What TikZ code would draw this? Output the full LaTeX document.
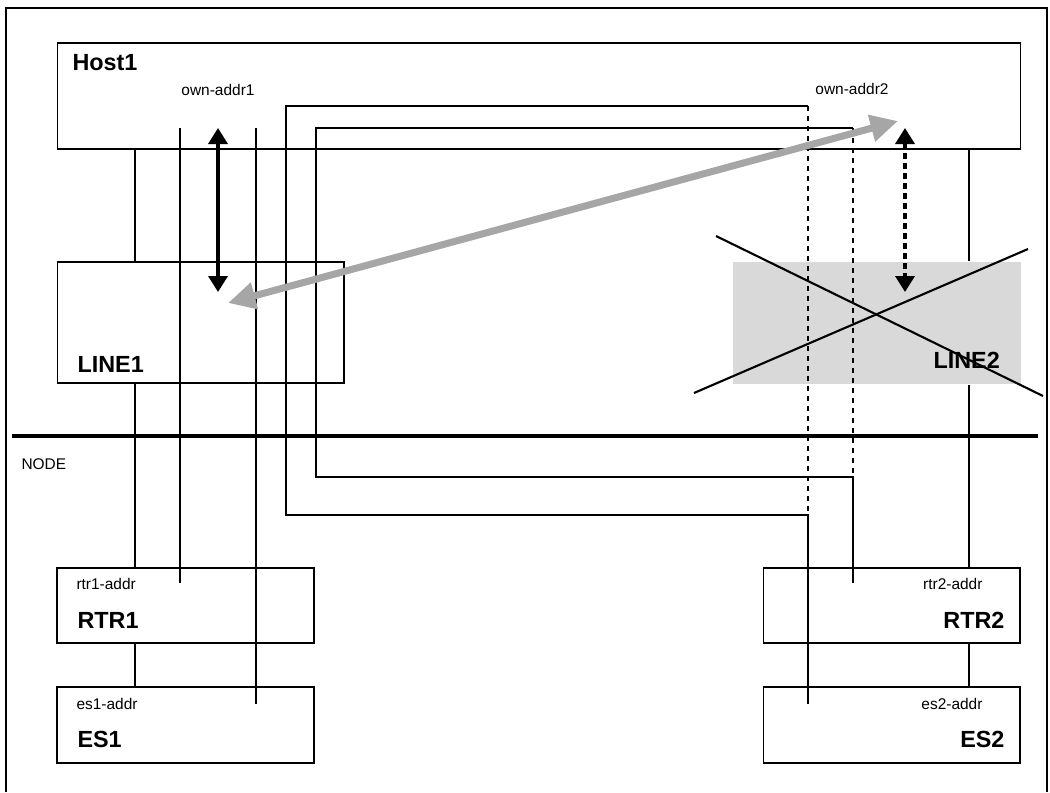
\documentclass[tikz,border=0pt]{standalone}
\usepackage{fontspec}
\setmainfont{Liberation Sans}
\usetikzlibrary{arrows.meta}

\begin{document}
\begin{tikzpicture}[x=0.02cm,y=-0.02cm,line width=0.6pt,
  netbox/.style={draw,line width=0.6pt,inner sep=0pt},
  downbox/.style={fill=black!15,inner sep=0pt},
  addr/.style={font=\fontsize{8.8}{10}\selectfont,inner sep=0pt},
  title/.style={font=\fontsize{13.3}{15}\selectfont\bfseries,inner sep=0pt},
  route/.style={line width=0.6pt},
  dropped/.style={line width=0.6pt,dash pattern=on 0.1cm off 0.1cm}]
\useasboundingbox (0,0) rectangle (1050,792);
\draw (6,792) -- (6,8) -- (1047,8) -- (1047,792);
\node[netbox,minimum width=19.28cm,minimum height=2.12cm] (host1) at (539,96) {};
\node[netbox,minimum width=5.74cm,minimum height=2.42cm] (line1) at (200.5,322.5) {};
\node[downbox,minimum width=5.76cm,minimum height=2.44cm] (line2) at (877,323) {};
\node[netbox,minimum width=5.14cm,minimum height=1.5cm] (rtr1) at (185.5,605.5) {};
\node[netbox,minimum width=5.14cm,minimum height=1.52cm] (es1) at (185.5,725) {};
\node[netbox,minimum width=5.14cm,minimum height=1.5cm] (rtr2) at (891.5,605.5) {};
\node[netbox,minimum width=5.14cm,minimum height=1.52cm] (es2) at (891.5,725) {};
\node[title,anchor=base west] (host1lbl) at (72,70.5) {Host1};
\node[title,anchor=base west] (line1lbl) at (77,372) {LINE1};
\node[title,anchor=base west] (line2lbl) at (933,368) {LINE2};
\node[title,anchor=base west] (rtr1lbl) at (77,628) {RTR1};
\node[title,anchor=base west] (es1lbl) at (77,747) {ES1};
\node[title,anchor=base east] (rtr2lbl) at (1005,628) {RTR2};
\node[title,anchor=base east] (es2lbl) at (1005,747) {ES2};
\node[addr] (own1) at (218,90) {own-addr1};
\node[addr] (own2) at (852,89) {own-addr2};
\node[addr,anchor=west] (rtr1addr) at (76,583.5) {rtr1-addr};
\node[addr,anchor=west] (es1addr) at (76,703.5) {es1-addr};
\node[addr,anchor=east] (rtr2addr) at (983,583.5) {rtr2-addr};
\node[addr,anchor=east] (es2addr) at (983,703.5) {es2-addr};
\node[addr,anchor=west] (nodelbl) at (21,464) {NODE};
\coordinate (left) at (135,0);
\coordinate (right) at (969,0);
\coordinate (r1top) at (180,128);
\coordinate (r1end) at (180,583);
\coordinate (e1top) at (256,128);
\coordinate (e1end) at (256,704);
\coordinate (e2a) at (286,106);
\coordinate (e2b) at (808,106);
\coordinate (e2c) at (808,515);
\coordinate (e2d) at (286,515);
\coordinate (e2end) at (808,704);
\coordinate (r2a) at (316,128);
\coordinate (r2b) at (853,128);
\coordinate (r2c) at (853,477);
\coordinate (r2d) at (316,477);
\coordinate (r2end) at (853,583);
\draw[route] (host1.south -| left) -- (line1.north -| left);
\draw[route] (line1.south -| left) -- (rtr1.north -| left);
\draw[route] (rtr1.south -| left) -- (es1.north -| left);
\draw[route] (host1.south -| right) -- (line2.north -| right);
\draw[route] (line2.south -| right) -- (rtr2.north -| right);
\draw[route] (rtr2.south -| right) -- (es2.north -| right);
\draw[route] (r1top) -- (r1end);
\draw[route] (e1top) -- (e1end);
\draw[route] (e2b) -- (e2a) -- (e2d) -- (e2c) -- (e2end);
\draw[dropped] (e2b) -- (e2c);
\draw[route] (r2b) -- (r2a) -- (r2d) -- (r2c) -- (r2end);
\draw[dropped] (r2b) -- (r2c);
\draw[line width=2.3pt] (12,436) -- (1038,436);
\coordinate (x1) at (716,236);
\coordinate (x2) at (1043,396);
\coordinate (x3) at (694,393);
\coordinate (x4) at (1028,249);
\draw[line width=1.2pt] (x1) -- (x2);
\draw[line width=1.2pt] (x3) -- (x4);
\coordinate (own1up) at (218,128);
\coordinate (own1dn) at (218,292);
\coordinate (own2up) at (905,128);
\coordinate (own2dn) at (905,292);
\draw[line width=2pt,{Triangle[length=3.2mm,width=3.8mm]}-{Triangle[length=3.2mm,width=3.8mm]}] (own1up) -- (own1dn);
\draw[line width=2pt,dash pattern=on 0.12cm off 0.08cm,{Triangle[length=3.2mm,width=3.8mm]}-{Triangle[length=3.2mm,width=3.8mm]}] (own2up) -- (own2dn);
\coordinate (via1) at (228,303);
\coordinate (via2) at (898,121);
\draw[draw=black!35,line width=4pt,{Triangle[length=5.5mm,width=5.2mm]}-{Triangle[length=5.5mm,width=5.2mm]}] (via1) -- (via2);
\end{tikzpicture}
\end{document}
